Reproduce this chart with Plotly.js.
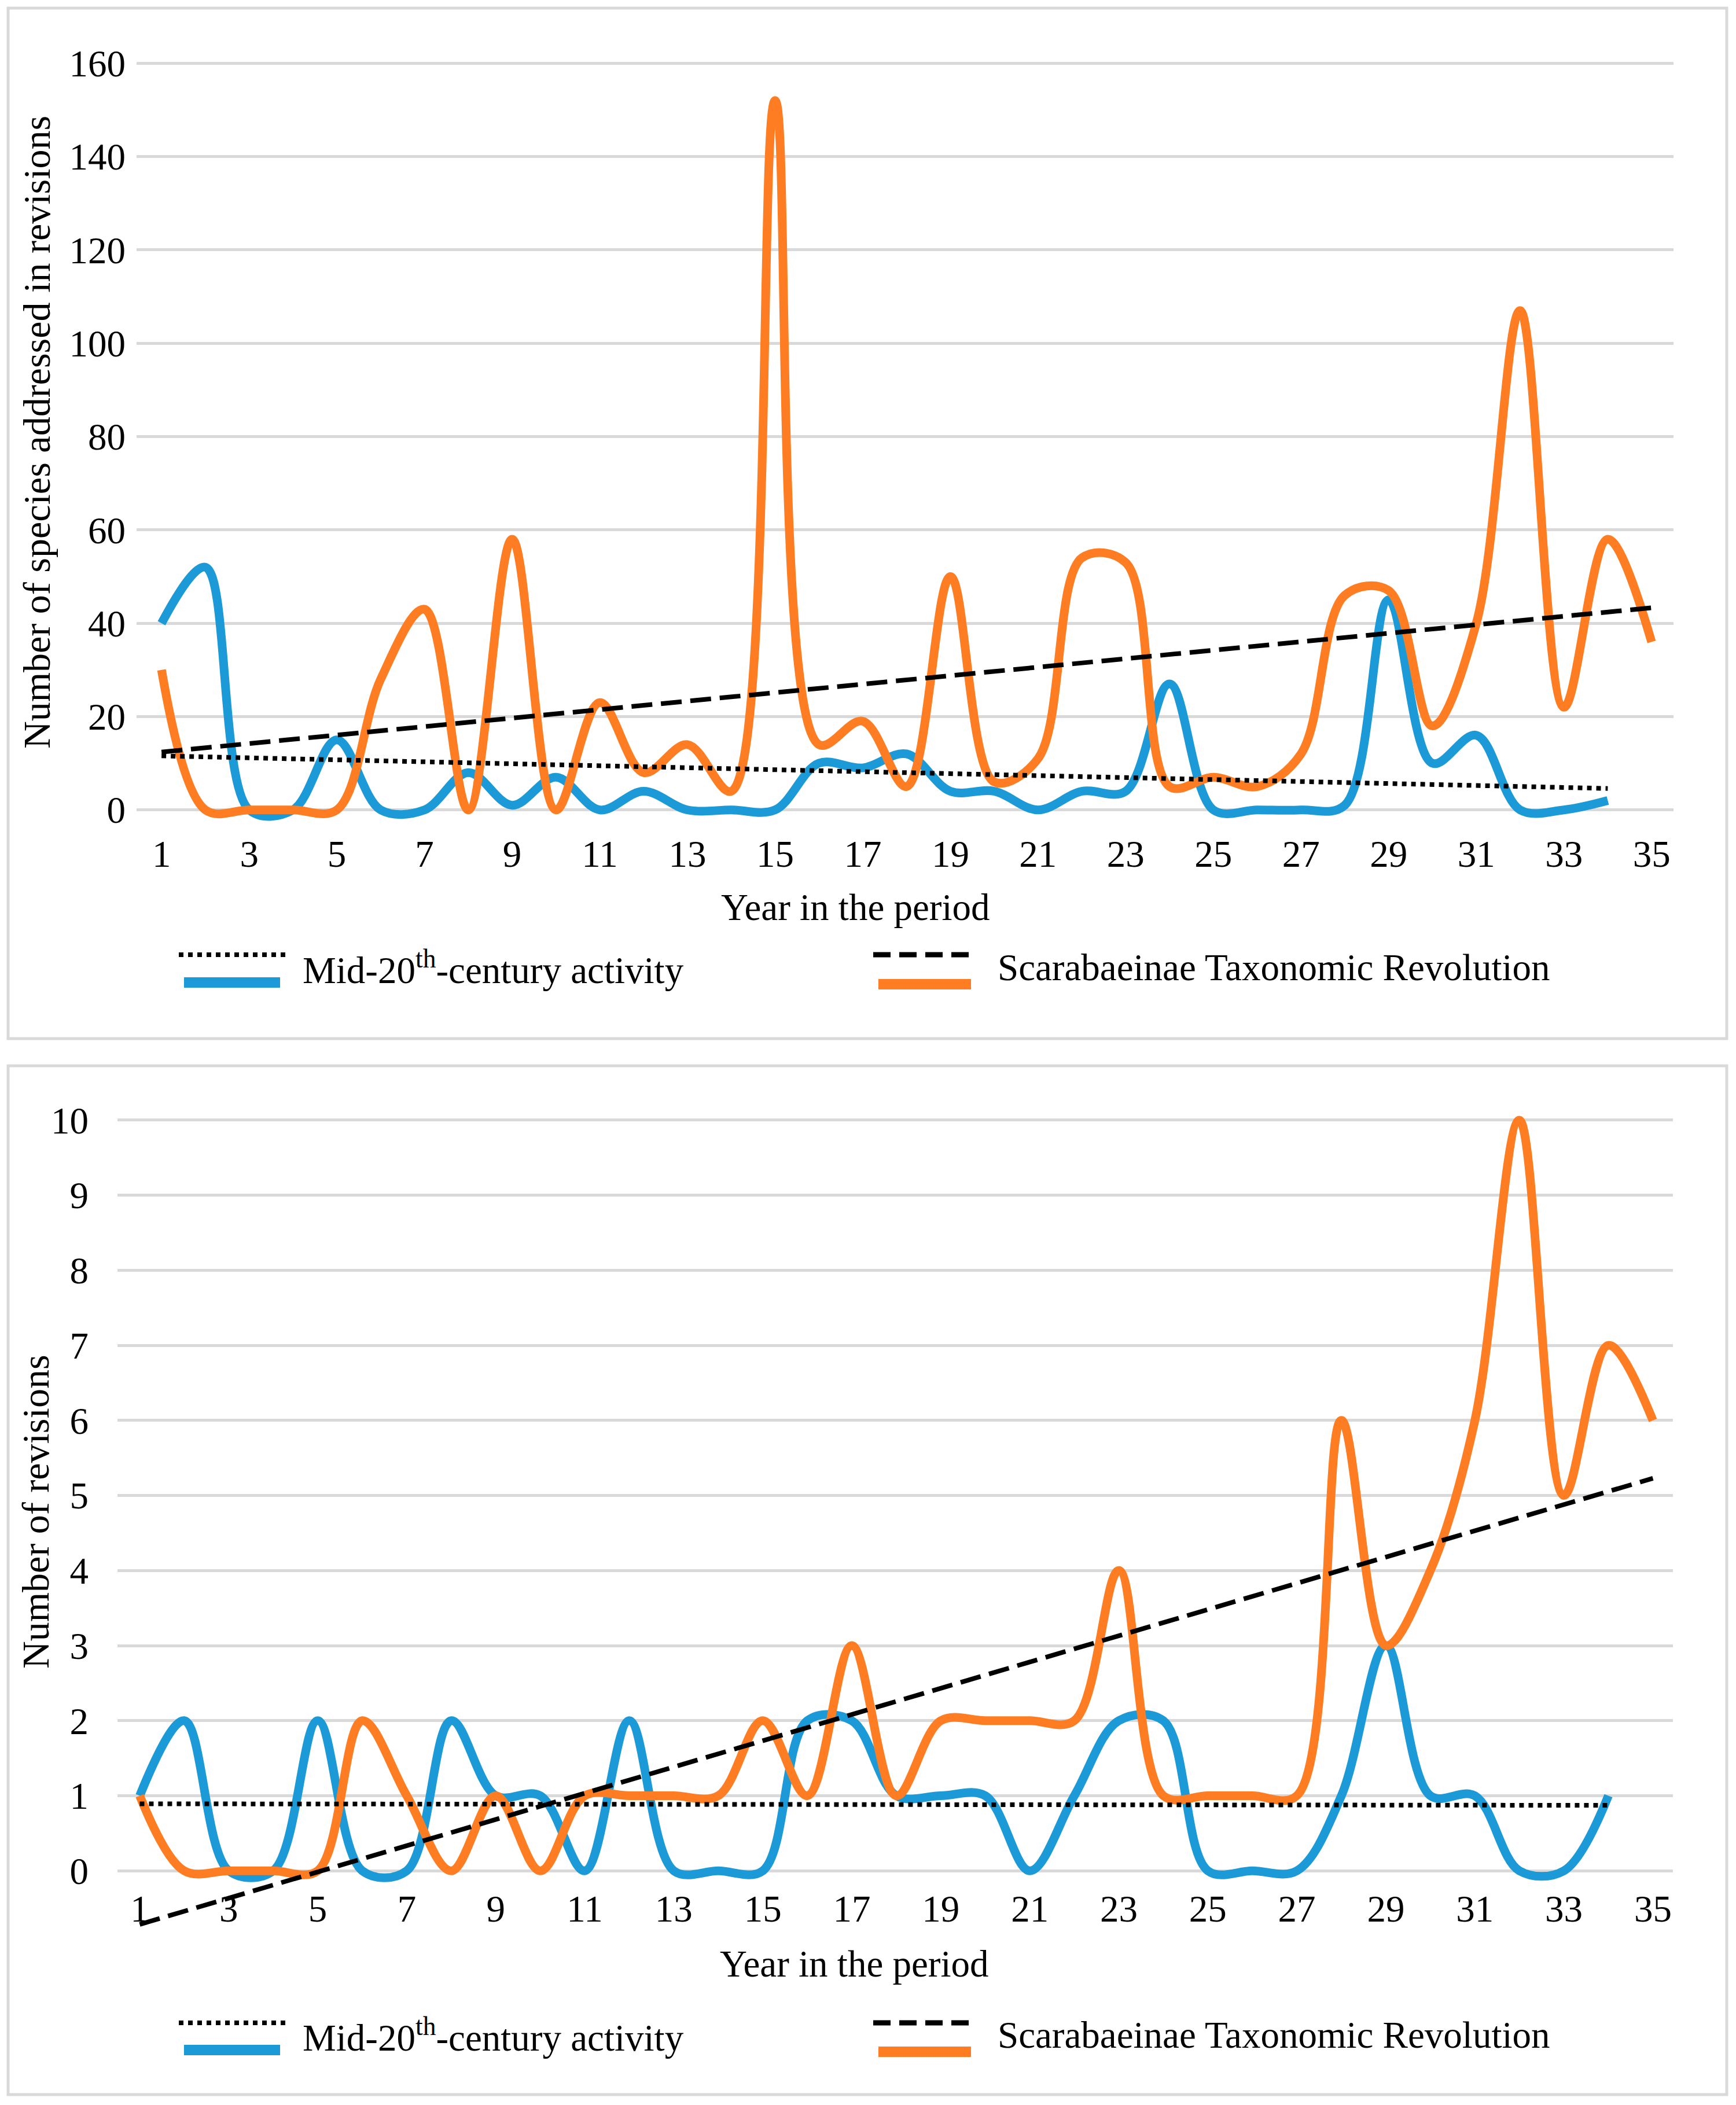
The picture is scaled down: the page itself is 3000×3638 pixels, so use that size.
<!DOCTYPE html>
<html>
<head>
<meta charset="utf-8">
<script src="https://cdn.plot.ly/plotly-3.0.1.min.js"></script>
<style>
  html, body { margin: 0; padding: 0; background: #ffffff; }
  #chart { width: 3000px; height: 3638px; }
</style>
</head>
<body>
<div id="chart"></div>
<script>
// ---------------- DATA ----------------
const years = [1,2,3,4,5,6,7,8,9,10,11,12,13,14,15,16,17,18,19,20,21,22,23,24,25,26,27,28,29,30,31,32,33,34,35];
const xTickVals = [1,3,5,7,9,11,13,15,17,19,21,23,25,27,29,31,33,35];

// Top panel: number of species addressed in revisions
const speciesMid20 = [40,52,0,0,15,0,0,8,1,7,0,4,0,0,0,10,9,12,4,4,0,4,4,27,0,0,0,1,45,10,16,0,0,2];
const speciesRevolution = [30,0,0,0,0,28,43,0,58,0,23,8,14,4,152,14,19,5,50,6,11,54,53,5,7,5,12,46,47,18,40,107,22,58,36];
const speciesTicks = [0,20,40,60,80,100,120,140,160];

// Bottom panel: number of revisions
const revisionsMid20 = [1,2,0,0,2,0,0,2,1,1,0,2,0,0,0,2,2,1,1,1,0,1,2,2,0,0,0,1,3,1,1,0,0,1];
const revisionsRevolution = [1,0,0,0,0,2,1,0,1,0,1,1,1,1,2,1,3,1,2,2,2,2,4,1,1,1,1,6,3,4,6,10,5,7,6];
const revisionsTicks = [0,1,2,3,4,5,6,7,8,9,10];

const seriesNames = ['Mid-20<sup>th</sup>-century activity', 'Scarabaeinae Taxonomic Revolution'];
const topYTitle = 'Number of species addressed in revisions';
const bottomYTitle = 'Number of revisions';
const xTitle = 'Year in the period';

// ---------------- STYLE ----------------
const W = 3000, H = 3638;
const BLUE = '#1b9ad7', ORANGE = '#fe7d22', GRID = '#d9d9d9';
const FONT = 'Liberation Serif';
const FS = 65;
const X = px => px / W;
const Y = py => 1 - py / H;

// linear least-squares trend computed from the data
function trend(ys) {
  const xs = years.slice(0, ys.length);
  const n = ys.length;
  const mx = xs.reduce((a, b) => a + b, 0) / n;
  const my = ys.reduce((a, b) => a + b, 0) / n;
  let sxy = 0, sxx = 0;
  for (let i = 0; i < n; i++) { sxy += (xs[i] - mx) * (ys[i] - my); sxx += (xs[i] - mx) ** 2; }
  const b = sxy / sxx, a = my - b * mx;
  const x0 = xs[0], x1 = xs[n - 1];
  return { x: [x0, x1], y: [a + b * x0, a + b * x1] };
}

function lineTrace(ys, color, xa, ya) {
  return { x: years.slice(0, ys.length), y: ys, type: 'scatter', mode: 'lines',
           line: { color: color, width: 15, shape: 'spline', smoothing: 1 },
           xaxis: xa, yaxis: ya, showlegend: false, hoverinfo: 'x+y' };
}
function trendTrace(ys, dash, width, xa, ya) {
  const t = trend(ys);
  return { x: t.x, y: t.y, type: 'scatter', mode: 'lines',
           line: { color: '#000000', width: width, dash: dash },
           xaxis: xa, yaxis: ya, showlegend: false, hoverinfo: 'skip' };
}

const DOT = 'dot';
const DASH = '36px,15px';

const traces = [
  lineTrace(speciesMid20, BLUE, 'x', 'y'),
  lineTrace(speciesRevolution, ORANGE, 'x', 'y'),
  trendTrace(speciesMid20, DOT, 8, 'x', 'y'),
  trendTrace(speciesRevolution, DASH, 8, 'x', 'y'),
  lineTrace(revisionsMid20, BLUE, 'x2', 'y2'),
  lineTrace(revisionsRevolution, ORANGE, 'x2', 'y2'),
  trendTrace(revisionsMid20, DOT, 8, 'x2', 'y2'),
  trendTrace(revisionsRevolution, DASH, 8, 'x2', 'y2')
];

const axisFont = { family: FONT, size: FS, color: '#000000' };

function xAxis(domain, range, anchor, standoff) {
  return { domain: domain, range: range, anchor: anchor, tickmode: 'array', tickvals: xTickVals,
           ticktext: xTickVals.map(String), showgrid: false, zeroline: false, showline: false,
           ticks: '', tickfont: axisFont, ticklabelstandoff: standoff, fixedrange: true };
}
function yAxis(domain, range, anchor, ticksArr, standoff) {
  return { domain: domain, range: range, anchor: anchor, tickmode: 'array', tickvals: ticksArr,
           ticktext: ticksArr.map(String), showgrid: true, gridcolor: GRID, gridwidth: 5,
           zeroline: false, showline: false, ticks: '', tickfont: axisFont,
           ticklabelstandoff: standoff, fixedrange: true };
}

// frames
const shapes = [
  { type: 'rect', xref: 'paper', yref: 'paper', x0: X(14), x1: X(2984), y0: Y(14), y1: Y(1795),
    line: { color: GRID, width: 5 }, fillcolor: 'rgba(0,0,0,0)', layer: 'below' },
  { type: 'rect', xref: 'paper', yref: 'paper', x0: X(14), x1: X(2984), y0: Y(1842), y1: Y(3620),
    line: { color: GRID, width: 5 }, fillcolor: 'rgba(0,0,0,0)', layer: 'below' }
];
const annotations = [];

function legend(yTrend, ySeries, yText) {
  shapes.push({ type: 'line', xref: 'paper', yref: 'paper', x0: X(309), x1: X(499), y0: Y(yTrend), y1: Y(yTrend),
                line: { color: '#000', width: 8, dash: DOT } });
  shapes.push({ type: 'line', xref: 'paper', yref: 'paper', x0: X(318), x1: X(484), y0: Y(ySeries), y1: Y(ySeries),
                line: { color: BLUE, width: 18 } });
  annotations.push({ xref: 'paper', yref: 'paper', x: X(521), y: Y(yText), xanchor: 'left', yanchor: 'middle',
                     text: seriesNames[0], showarrow: false, font: axisFont });
  shapes.push({ type: 'line', xref: 'paper', yref: 'paper', x0: X(1509), x1: X(1686), y0: Y(yTrend), y1: Y(yTrend),
                line: { color: '#000', width: 9, dash: '30px,15px' } });
  shapes.push({ type: 'line', xref: 'paper', yref: 'paper', x0: X(1518), x1: X(1678), y0: Y(ySeries + 3), y1: Y(ySeries + 3),
                line: { color: ORANGE, width: 18 } });
  annotations.push({ xref: 'paper', yref: 'paper', x: X(1722), y: Y(yText), xanchor: 'left', yanchor: 'middle',
                     text: seriesNames[1], showarrow: false, font: axisFont });
}
legend(1650, 1698, 1672);
legend(3496, 3543, 3517);

// axis titles
annotations.push({ xref: 'paper', yref: 'paper', x: X(63), y: Y(747), textangle: -90, xanchor: 'center', yanchor: 'middle',
                   text: topYTitle, showarrow: false, font: { family: FONT, size: 66, color: '#000' } });
annotations.push({ xref: 'paper', yref: 'paper', x: X(61), y: Y(2613), textangle: -90, xanchor: 'center', yanchor: 'middle',
                   text: bottomYTitle, showarrow: false, font: { family: FONT, size: 66, color: '#000' } });
annotations.push({ xref: 'paper', yref: 'paper', x: X(1478), y: Y(1568), xanchor: 'center', yanchor: 'middle',
                   text: xTitle, showarrow: false, font: axisFont });
annotations.push({ xref: 'paper', yref: 'paper', x: X(1476), y: Y(3394), xanchor: 'center', yanchor: 'middle',
                   text: xTitle, showarrow: false, font: axisFont });

const layout = {
  width: W, height: H,
  margin: { l: 0, r: 0, t: 0, b: 0, pad: 0 },
  paper_bgcolor: '#ffffff', plot_bgcolor: 'rgba(0,0,0,0)',
  font: { family: FONT, size: FS, color: '#000' },
  showlegend: false,
  xaxis: xAxis([X(236), X(2892)], [0.43, 35.5], 'y', 0),
  yaxis: yAxis([Y(1432), Y(77)], [-4, 164], 'x', speciesTicks, 18),
  xaxis2: xAxis([X(203), X(2891)], [0.5, 35.45], 'y2', -82),
  yaxis2: yAxis([Y(3337), Y(1910)], [-0.8, 10.2], 'x2', revisionsTicks, 49),
  shapes: shapes,
  annotations: annotations
};

Plotly.newPlot('chart', traces, layout, { staticPlot: true, displayModeBar: false });
</script>
</body>
</html>
